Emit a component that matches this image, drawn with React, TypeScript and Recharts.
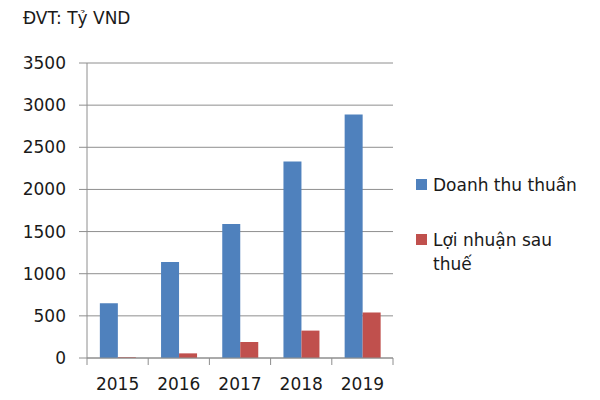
import React from "react";
import { BarChart, Bar, XAxis, YAxis, CartesianGrid } from "recharts";

const years = ["2015", "2016", "2017", "2018", "2019"];
const doanhThu = [650, 1140, 1590, 2330, 2890];
const loiNhuan = [8, 55, 190, 325, 540];
const yTicks = [0, 500, 1000, 1500, 2000, 2500, 3000, 3500];

const BLUE = "#4F81BD";
const RED = "#C0504D";
const GRID = "#8e8e8e";
const FONT = "'DejaVu Sans', sans-serif";

const data = years.map((year, i) => ({ year, doanhThu: doanhThu[i], loiNhuan: loiNhuan[i] }));

// category axis tick: label at centre, tick mark at category boundary (Excel style)
// eslint-disable-next-line @typescript-eslint/no-explicit-any
function YearTick(props: any) {
  const { x, y, payload, index, visibleTicksCount } = props;
  const half = payload && payload.offset ? payload.offset : 30.6;
  const top = y - 20;
  return (
    <g>
      <line x1={x - half} x2={x - half} y1={top} y2={top + 7} stroke={GRID} />
      {index === visibleTicksCount - 1 && (
        <line x1={x + half} x2={x + half} y1={top} y2={top + 7} stroke={GRID} />
      )}
      <text x={x} y={y} dy="0.71em" textAnchor="middle" fill="#1a1a1a" fontSize={17} fontFamily={FONT}>
        {payload.value}
      </text>
    </g>
  );
}

const legendItems = [
  { color: BLUE, label: "Doanh thu thuần", top: 173, width: 200 },
  { color: RED, label: "Lợi nhuận sau thuế", top: 228, width: 150 },
];

export default function App() {
  return (
    <div style={{ position: "absolute", left: 0, top: 0, width: 600, height: 400, background: "#fff", fontFamily: FONT }}>
      <div style={{ position: "absolute", left: 23, top: 8, fontSize: 17, color: "#1a1a1a" }}>ĐVT: Tỷ VND</div>
      <BarChart
        width={600}
        height={400}
        data={data}
        margin={{ top: 63, right: 207, bottom: 0, left: 0 }}
        barCategoryGap="21%"
        barGap={0}
      >
        <CartesianGrid vertical={false} stroke={GRID} />
        <XAxis
          dataKey="year"
          height={42}
          axisLine={{ stroke: GRID }}
          tickLine={false}
          tickMargin={14}
          tick={<YearTick />}
        />
        <YAxis
          width={87}
          domain={[0, 3500]}
          ticks={yTicks}
          interval={0}
          axisLine={{ stroke: GRID }}
          tickLine={{ stroke: GRID }}
          tickSize={8}
          tickMargin={13}
          tick={{ fontSize: 17, fill: "#1a1a1a", fontFamily: FONT }}
        />
        <Bar dataKey="doanhThu" fill={BLUE} isAnimationActive={false} />
        <Bar dataKey="loiNhuan" fill={RED} isAnimationActive={false} />
      </BarChart>
      {legendItems.map((item) => (
        <div key={item.label} style={{ position: "absolute", left: 416, top: item.top, width: item.width, display: "flex", alignItems: "flex-start" }}>
          <span style={{ width: 11, height: 11, background: item.color, marginTop: 6, flexShrink: 0 }} />
          <span style={{ marginLeft: 6, fontSize: 17, lineHeight: "24px", color: "#1a1a1a" }}>{item.label}</span>
        </div>
      ))}
    </div>
  );
}
